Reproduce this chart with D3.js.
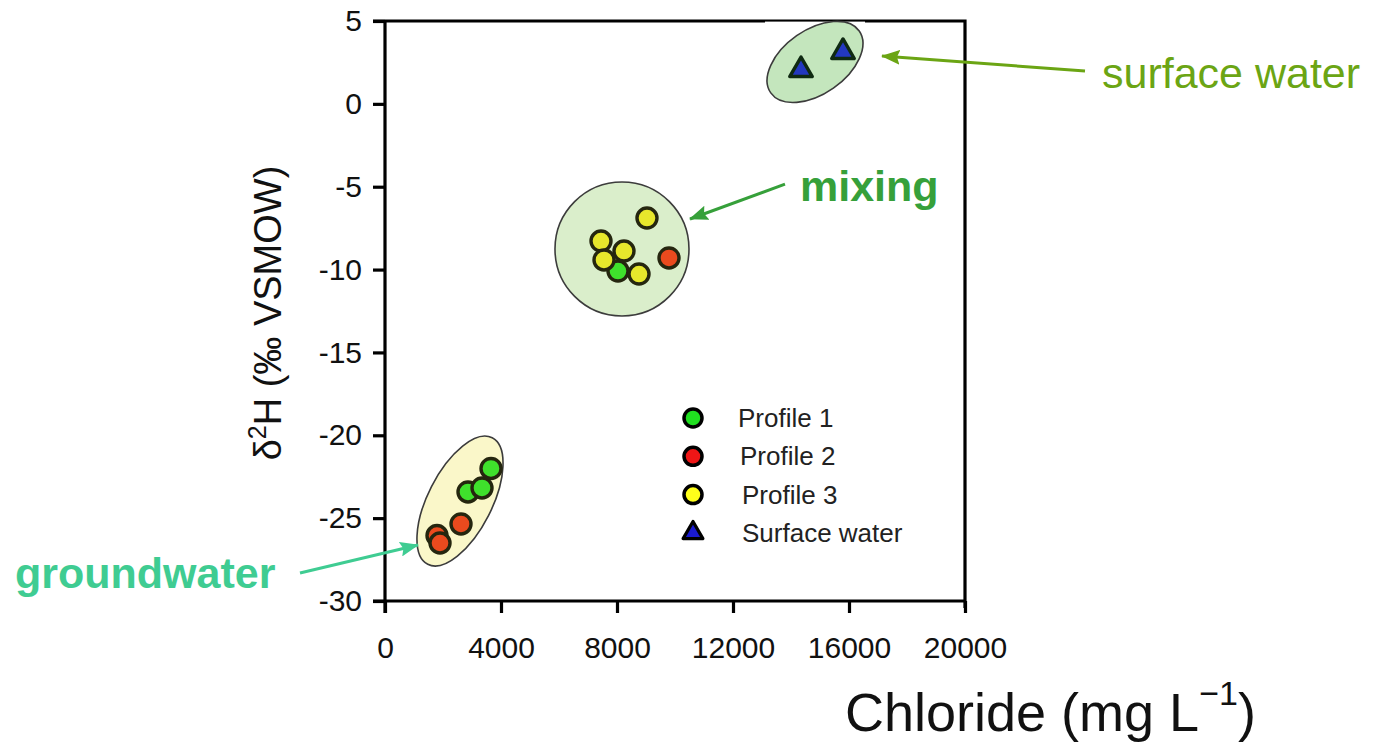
<!DOCTYPE html>
<html>
<head>
<meta charset="utf-8">
<script src="https://cdn.jsdelivr.net/npm/d3@7"></script>
<style>
  body { margin: 0; background: #fff; }
  svg text { font-family: "Liberation Sans", Arial, sans-serif; }
</style>
</head>
<body>
<div id="canvas-wrapper"></div>
<script>
// tick values
var xTicks = [0, 4000, 8000, 12000, 16000, 20000];
var yTicks = [5, 0, -5, -10, -15, -20, -25, -30];

// chloride (mg/L), d2H (permil)
var profile1 = [
  {cl: 8034, d2h: -10.09},
  {cl: 2862, d2h: -23.42},
  {cl: 3345, d2h: -23.18},
  {cl: 3655, d2h: -22.0}
];
var profile2 = [
  {cl: 9793, d2h: -9.30},
  {cl: 2621, d2h: -25.35},
  {cl: 1793, d2h: -26.05},
  {cl: 1897, d2h: -26.5}
];
var profile3 = [
  {cl: 9034, d2h: -6.89},
  {cl: 7448, d2h: -8.28},
  {cl: 8241, d2h: -8.88},
  {cl: 7552, d2h: -9.42},
  {cl: 8759, d2h: -10.27}
];
var surfaceWater = [
  {cl: 14345, d2h: 2.04},
  {cl: 15793, d2h: 3.13}
];

var legendLabels = ["Profile 1", "Profile 2", "Profile 3", "Surface water"];

// group annotations (positions in data units)
var groupLabels = ["surface water", "mixing", "groundwater"];
var groupTextPos = [[24724, 0.96], [14310, -5.86], [-12759, -29.22]];
var groupArrowTail = [[24138, 1.98], [13793, -4.84], [-2931, -28.31]];
var groupArrowTip = [[17138, 2.89], [10517, -6.95], [1138, -26.62]];
var groupCenter = [[14828, 2.53], [8172, -8.76], [2586, -23.97]];

function chart_this() {
  var margin = {top: 21, right: 417, bottom: 146, left: 385},
    width = 1382 - margin.left - margin.right,
    height = 747 - margin.top - margin.bottom;

  var x = d3.scaleLinear().domain([0, 20000]).range([0, width]);
  var y = d3.scaleLinear().domain([-30, 5]).range([height, 0]);

  var root = d3.select("#canvas-wrapper").append("svg")
      .attr("width", 1382)
      .attr("height", 747);

  root.append("defs").selectAll("marker")
    .data(["#6ba514", "#36a03a", "#3fcc92"])
    .enter().append("marker")
      .attr("id", function(d, i) { return "arrow" + i; })
      .attr("markerUnits", "userSpaceOnUse")
      .attr("viewBox", "0 0 19 15")
      .attr("refX", 18).attr("refY", 7.5)
      .attr("markerWidth", 19).attr("markerHeight", 15)
      .attr("orient", "auto")
    .append("path")
      .attr("d", "M0,0 L19,7.5 L0,15 L3,7.5 Z")
      .attr("fill", function(d) { return d; });

  var svg = root.append("g")
      .attr("transform", "translate(" + margin.left + "," + margin.top + ")");

  // frame: top and right border
  svg.append("path")
    .attr("d", "M-12,0 H" + width + " V" + (height + 7))
    .attr("fill", "none").attr("stroke", "#000").attr("stroke-width", 3.2);

  // cluster shapes
  var ellipses = [
    {c: groupCenter[0], rx: 54, ry: 32, rot: -35, fill: "#c4e6bd"},
    {c: groupCenter[1], rx: 67, ry: 67, rot: 0, fill: "#daeecb"},
    {c: groupCenter[2], rx: 32, ry: 71, rot: 27, fill: "#faf7c9"}
  ];
  // white knock-out behind the surface water ellipse on the top border
  svg.append("rect")
    .attr("x", x(groupCenter[0][0]) - 50).attr("y", 0.6)
    .attr("width", 100).attr("height", 2)
    .attr("fill", "#fff");

  svg.selectAll(".cluster")
    .data(ellipses)
    .enter().append("ellipse")
      .attr("class", "cluster")
      .attr("rx", function(d) { return d.rx; })
      .attr("ry", function(d) { return d.ry; })
      .attr("transform", function(d) {
        return "translate(" + x(d.c[0]) + "," + y(d.c[1]) + ") rotate(" + d.rot + ")";
      })
      .attr("fill", function(d) { return d.fill; })
      .attr("stroke", "#3c3c3c")
      .attr("stroke-width", 1.6);

  // Add the X Axis
  var xAxis = svg.append("g")
    .attr("transform", "translate(0," + height + ")")
    .call(d3.axisBottom(x).tickValues(xTicks).tickSize(12).tickPadding(24).tickSizeOuter(0)
      .tickFormat(d3.format("d")));
  xAxis.select(".domain").attr("d", "M-12,0 H" + width);

  // Add the Y Axis
  var yAxis = svg.append("g")
    .call(d3.axisLeft(y).tickValues(yTicks).tickSize(12).tickPadding(11).tickSizeOuter(0)
      .tickFormat(d3.format("d")));
  yAxis.select(".domain").attr("d", "M0,0 V" + (height + 12));

  [xAxis, yAxis].forEach(function(a) {
    a.select(".domain").attr("stroke", "#000").attr("stroke-width", 3.2);
    a.selectAll(".tick line").attr("stroke", "#000").attr("stroke-width", 3.2);
    a.selectAll(".tick text")
      .attr("fill", "#111")
      .style("font-size", "30px")
      .style("font-family", "'Liberation Sans', Arial, sans-serif");
  });
  yAxis.selectAll(".tick text").text(function(d) { return d3.format("d")(d).replace("\u2212", "-"); });

  // axis titles
  var yTitle = svg.append("text")
    .attr("transform", "translate(" + (-104) + "," + (height / 2 + 2) + ") rotate(-90)")
    .attr("text-anchor", "middle")
    .attr("fill", "#111")
    .style("font-size", "38px");
  yTitle.append("tspan").text("\u03b4");
  yTitle.append("tspan").attr("dy", -15).style("font-size", "25px").text("2");
  yTitle.append("tspan").attr("dy", 15).text("H (\u2030 VSMOW)");

  var xTitle = svg.append("text")
    .attr("x", 460).attr("y", height + 130)
    .attr("fill", "#111")
    .style("font-size", "54px");
  xTitle.append("tspan").text("Chloride (mg L");
  xTitle.append("tspan").attr("dy", -26).style("font-size", "34px").text("\u22121");
  xTitle.append("tspan").attr("dy", 26).text(")");

  // points
  var series = [
    {data: profile1, fill: "#3fe12c"},
    {data: profile2, fill: "#ea4a1e"},
    {data: profile3, fill: "#e7e72c"}
  ];
  series.forEach(function(s) {
    svg.append("g").selectAll("circle")
      .data(s.data)
      .enter().append("circle")
        .attr("cx", function(d) { return x(d.cl); })
        .attr("cy", function(d) { return y(d.d2h); })
        .attr("r", 10)
        .attr("fill", s.fill)
        .attr("stroke", "#25260f")
        .attr("stroke-width", 3.4);
  });

  var tri = d3.symbol(d3.symbolTriangle, 220);
  svg.append("g").selectAll("path")
    .data(surfaceWater)
    .enter().append("path")
      .attr("d", tri)
      .attr("transform", function(d) { return "translate(" + x(d.cl) + "," + y(d.d2h) + ")"; })
      .attr("fill", "#2338c0")
      .attr("stroke", "#0f2a12")
      .attr("stroke-width", 3.4)
      .attr("stroke-linejoin", "round");

  // legend
  var legend = svg.append("g").attr("transform", "translate(308,397)");
  var legendFill = ["#20e020", "#ee1616", "#ffff1a", "#1a1ad0"];
  var rows = legend.selectAll(".row")
    .data(legendLabels)
    .enter().append("g")
      .attr("class", "row")
      .attr("transform", function(d, i) { return "translate(0," + (i * 38.3) + ")"; });
  rows.each(function(d, i) {
    var g = d3.select(this);
    if (i < 3) {
      g.append("circle").attr("r", 9)
        .attr("fill", legendFill[i]).attr("stroke", "#000").attr("stroke-width", 3.5);
    } else {
      g.append("path").attr("d", d3.symbol(d3.symbolTriangle, 170))
        .attr("fill", legendFill[i]).attr("stroke", "#000").attr("stroke-width", 3.2)
        .attr("stroke-linejoin", "round");
    }
    g.append("text")
      .attr("x", 45 + Math.min(i, 2) * 2)
      .attr("y", 9)
      .attr("fill", "#222")
      .style("font-size", "26px")
      .text(d);
  });

  // group annotations
  var groupColor = ["#6ba514", "#36a03a", "#3fcc92"];
  groupLabels.forEach(function(label, i) {
    svg.append("line")
      .attr("x1", x(groupArrowTail[i][0])).attr("y1", y(groupArrowTail[i][1]))
      .attr("x2", x(groupArrowTip[i][0])).attr("y2", y(groupArrowTip[i][1]))
      .attr("stroke", groupColor[i])
      .attr("stroke-width", 3)
      .attr("marker-end", "url(#arrow" + i + ")");
    svg.append("text")
      .attr("x", x(groupTextPos[i][0]))
      .attr("y", y(groupTextPos[i][1]))
      .attr("fill", groupColor[i])
      .style("font-size", "43px")
      .style("font-weight", i === 0 ? "normal" : "bold")
      .text(label);
  });
}

chart_this();
</script>
</body>
</html>
